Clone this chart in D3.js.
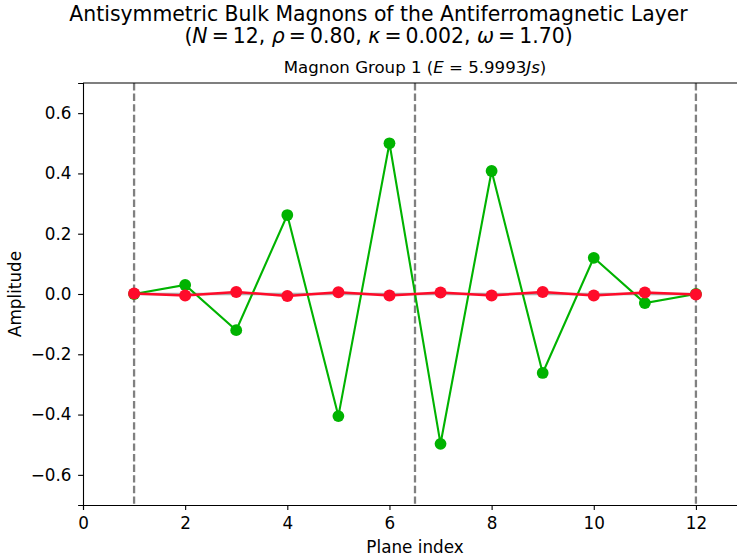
<!DOCTYPE html>
<html>
<head>
<meta charset="utf-8">
<script src="https://cdn.jsdelivr.net/npm/d3@7"></script>
<style>
  html, body { margin: 0; padding: 0; background: #fff; }
  svg { display: block; font-family: "DejaVu Sans", sans-serif; }
</style>
</head>
<body>
<svg id="chart" width="737" height="559"></svg>
<script>
// Plane indices and mode amplitudes
const planes = [1, 2, 3, 4, 5, 6, 7, 8, 9, 10, 11, 12];
const greenAmp = [0.0, 0.030, -0.120, 0.262, -0.405, 0.500, -0.497, 0.408, -0.262, 0.120, -0.030, 0.0];
const redAmp = [0.002, -0.005, 0.007, -0.007, 0.006, -0.005, 0.005, -0.005, 0.007, -0.005, 0.005, -0.002];
const baseline = [0, 0, 0, 0, 0, 0, 0, 0, 0, 0, 0, 0];
const dividers = [1, 6.5, 12];
const xTicks = [0, 2, 4, 6, 8, 10, 12];
const yTicks = [-0.6, -0.4, -0.2, 0.0, 0.2, 0.4, 0.6];

const svg = d3.select("#chart");
const mLeft = 83, mRight = 747, mTop = 83, mBottom = 505;

const x = d3.scaleLinear().domain([0, 13]).range([mLeft, mRight]);
const y = d3.scaleLinear().domain([-0.7, 0.7]).range([mBottom, mTop]);

const eq = "\u2009=\u2009";

// Titles
svg.append("text").attr("x", 378.5).attr("y", 20.5).attr("text-anchor", "middle")
  .attr("font-size", 20.4).attr("fill", "#000")
  .text("Antisymmetric Bulk Magnons of the Antiferromagnetic Layer");

const t2 = svg.append("text").attr("x", 378.5).attr("y", 42.5).attr("text-anchor", "middle")
  .attr("font-size", 20.4).attr("fill", "#000");
[["(", false], ["N", true], [eq + "12, ", false], ["ρ", true], [eq + "0.80, ", false],
 ["κ", true], [eq + "0.002, ", false], ["ω", true], [eq + "1.70)", false]].forEach(([s, it]) => {
  t2.append("tspan").attr("font-style", it ? "italic" : "normal").text(s);
});

const t3 = svg.append("text").attr("x", (mLeft + mRight) / 2).attr("y", 73).attr("text-anchor", "middle")
  .attr("font-size", 16.6).attr("fill", "#000");
[["Magnon Group 1 (", false], ["E", true], [" = 5.9993", false], ["Js", true], [")", false]].forEach(([s, it]) => {
  t3.append("tspan").attr("font-style", it ? "italic" : "normal").text(s);
});

// Plot clip
svg.append("clipPath").attr("id", "plotclip").append("rect")
  .attr("x", mLeft).attr("y", mTop).attr("width", mRight - mLeft).attr("height", mBottom - mTop);
const plot = svg.append("g").attr("clip-path", "url(#plotclip)");

// Vertical dashed dividers
plot.selectAll("line.div").data(dividers).join("line")
  .attr("x1", d => x(d)).attr("x2", d => x(d)).attr("y1", mTop).attr("y2", mBottom)
  .attr("stroke", "#808080").attr("stroke-width", 2.3).attr("stroke-dasharray", "7.4,3.2");

const line = d3.line().x((d, i) => x(planes[i])).y(d => y(d));

// Zero reference
plot.append("path").datum(baseline).attr("d", line)
  .attr("fill", "none").attr("stroke", "#999").attr("stroke-width", 2.5).attr("opacity", 0.8);

// Green mode
plot.append("path").datum(greenAmp).attr("d", line)
  .attr("fill", "none").attr("stroke", "#00b300").attr("stroke-width", 2.1);
plot.selectAll("circle.g").data(greenAmp).join("circle")
  .attr("cx", (d, i) => x(planes[i])).attr("cy", d => y(d)).attr("r", 5.9).attr("fill", "#00b300");

// Red mode
plot.append("path").datum(redAmp).attr("d", line)
  .attr("fill", "none").attr("stroke", "#ff0b2a").attr("stroke-width", 2.5);
plot.selectAll("circle.r").data(redAmp).join("circle")
  .attr("cx", (d, i) => x(planes[i])).attr("cy", d => y(d)).attr("r", 6).attr("fill", "#ff0b2a");

// Axes
const xAxis = svg.append("g").attr("transform", `translate(0,${mBottom})`)
  .call(d3.axisBottom(x).tickValues(xTicks).tickFormat(d3.format("d")).tickSize(4.9).tickPadding(7.5));
const yAxis = svg.append("g").attr("transform", `translate(${mLeft},0)`)
  .call(d3.axisLeft(y).tickValues(yTicks).tickFormat(d => d3.format(".1f")(d).replace("-", "\u2212")).tickSize(4.9).tickPadding(6.6));

[xAxis, yAxis].forEach(a => {
  a.selectAll("text").attr("font-size", 16.8).attr("fill", "#000").attr("font-family", "DejaVu Sans");
  a.selectAll("line").attr("stroke", "#000").attr("stroke-width", 1.1);
  a.select(".domain").attr("stroke", "#000").attr("stroke-width", 1.1);
});

// Top spine
svg.append("line").attr("x1", mLeft).attr("x2", mRight).attr("y1", mTop).attr("y2", mTop)
  .attr("stroke", "#000").attr("stroke-width", 1.1);

// Axis labels
svg.append("text").attr("x", x(6.5)).attr("y", 553).attr("text-anchor", "middle")
  .attr("font-size", 16.8).attr("fill", "#000").text("Plane index");
svg.append("text").attr("transform", `translate(20.5,${y(0)}) rotate(-90)`).attr("text-anchor", "middle")
  .attr("font-size", 16.8).attr("fill", "#000").text("Amplitude");
</script>
</body>
</html>
